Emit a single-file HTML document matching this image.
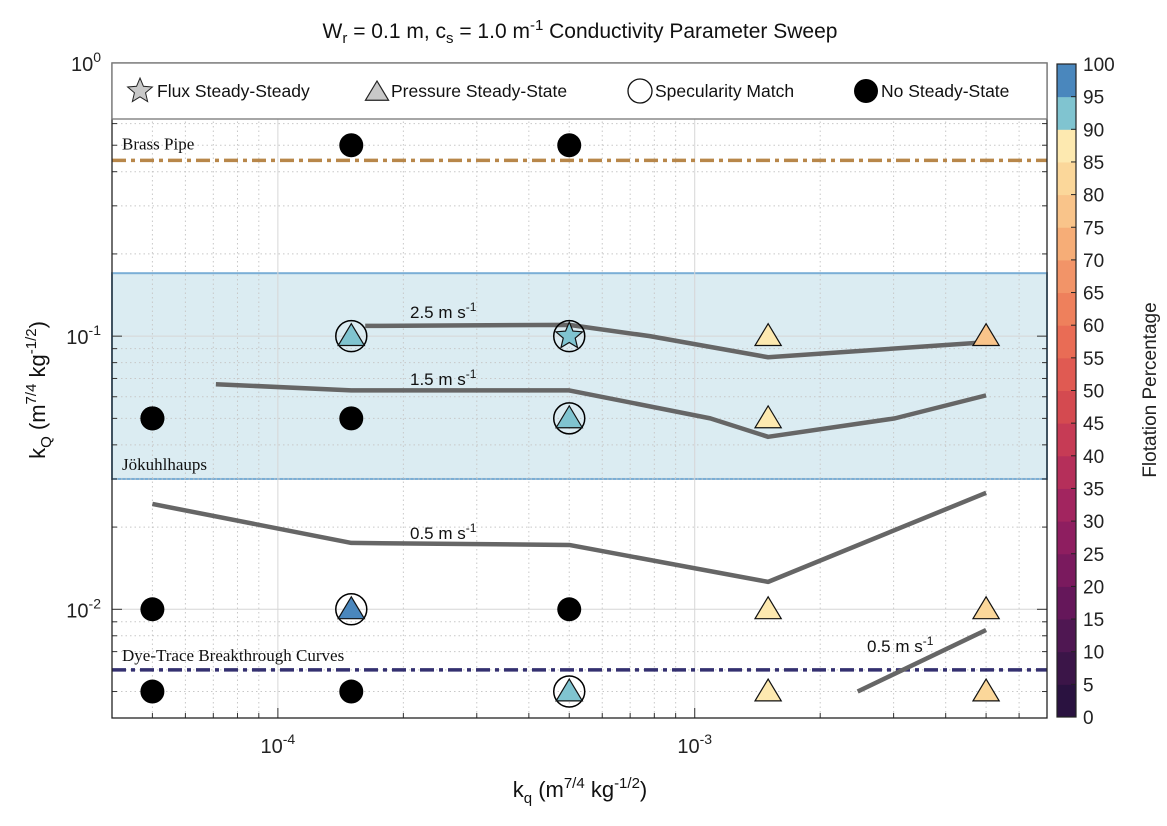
<!DOCTYPE html>
<html><head><meta charset="utf-8">
<style>
body{margin:0;background:#fff;}
svg{display:block;font-family:"Liberation Sans",Arial,sans-serif;}
</style></head>
<body>
<svg id="chart" width="1167" height="826" viewBox="0 0 1167 826" xmlns="http://www.w3.org/2000/svg">
<text x="580" y="38" text-anchor="middle" font-size="21" fill="#111">W<tspan font-size="15" dy="5">r</tspan><tspan dy="-5"> = 0.1 m, c</tspan><tspan font-size="15" dy="5">s</tspan><tspan dy="-5"> = 1.0 m</tspan><tspan font-size="15" dy="-8">-1</tspan><tspan dy="8"> Conductivity Parameter Sweep</tspan></text>
<g id="plot"></g>
</svg>
<script>
// ---- data ----
const blackX = [5e-5, 1.5e-4, 5e-4, 5e-5, 1.5e-4, 5e-5, 5e-4, 5e-5, 1.5e-4];
const blackY = [0.05, 0.5, 0.5, 0.05, 0.05, 0.01, 0.01, 0.005, 0.005];
const specX = [1.5e-4, 1.5e-4, 5e-4, 5e-4, 5e-4];
const specY = [0.1, 0.01, 0.05, 0.005, 0.1];
const triX = [1.5e-4, 1.5e-4, 5e-4, 5e-4, 1.5e-3, 5e-3, 1.5e-3, 1.5e-3, 5e-3, 1.5e-3, 5e-3];
const triY = [0.1, 0.01, 0.05, 0.005, 0.1, 0.1, 0.05, 0.01, 0.01, 0.005, 0.005];
const triPct = [92, 97, 92, 92, 87, 78, 87, 87, 80, 87, 80];
const starX = [5e-4];
const starY = [0.1];
const starPct = [92];
const line25X = [1.62e-4, 5e-4, 7.8e-4, 1.5e-3, 5e-3];
const line25Y = [0.109, 0.110, 0.100, 0.0837, 0.095];
const line15X = [7.1e-5, 1.5e-4, 5e-4, 1.09e-3, 1.5e-3, 3.02e-3, 5e-3];
const line15Y = [0.0667, 0.0633, 0.0633, 0.050, 0.0428, 0.050, 0.0607];
const line05X = [5e-5, 1.5e-4, 5e-4, 1.5e-3, 5e-3];
const line05Y = [0.0243, 0.0175, 0.0172, 0.0126, 0.0267];
const line05bX = [2.46e-3, 5e-3];
const line05bY = [0.005, 0.0084];
const brassY = 0.44, dyeY = 0.006, jokLo = 0.03, jokHi = 0.17;
const xTickVals = [1e-4, 1e-3];
const xTickLabels = ["-4", "-3"];
const yTickVals = [1e0, 1e-1, 1e-2];
const yTickLabels = ["0", "-1", "-2"];
const cbColors = ["#2a1240","#3b1548","#4f1752","#65175a","#7a1a5e","#8e1e60","#a2255f","#b52f5a","#c63b55","#d44a50","#e05a52","#e96c55","#ee805c","#f29468","#f6ad77","#f9c48a","#fbd79a","#fde9b0","#80c4d0","#4a87bd"];

// ---- axes ----
const L=112,R=1047,T=63,B=718;
const xmin=Math.log10(4e-5), xmax=Math.log10(7e-3);
const ymin=Math.log10(4e-3), ymax=0;
const sx=v=>L+(Math.log10(v)-xmin)/(xmax-xmin)*(R-L);
const sy=v=>B-(Math.log10(v)-ymin)/(ymax-ymin)*(B-T);
const colorOf=p=>cbColors[Math.min(19,Math.floor(p/5))];
const NS="http://www.w3.org/2000/svg";
const g=document.getElementById('plot');
function mk(tag,attrs,parent){const e=document.createElementNS(NS,tag);for(const k in attrs)e.setAttribute(k,attrs[k]);(parent||g).appendChild(e);return e;}

let e=mk('rect',{x:L,y:sy(jokHi),width:R-L,height:sy(jokLo)-sy(jokHi),fill:'#dbecf2',stroke:'#7aaed6','stroke-width':2});



for(let d=-5;d<=-2;d++)for(let m=1;m<10;m++){const v=m*Math.pow(10,d);const lv=Math.log10(v);if(lv<xmin||lv>xmax)continue;const x=sx(v);
 e=mk('line',{x1:x,x2:x,y1:T,y2:B,stroke:m==1?'#d6d6d6':'#c8c8c8','stroke-width':1,'stroke-dasharray':m==1?'':'1.5 3'});
 
 
 mk('line',{x1:x,x2:x,y1:B,y2:B-(m==1?10:5),stroke:'#333'});mk('line',{x1:x,x2:x,y1:T,y2:T+(m==1?10:5),stroke:'#333'});}
for(let d=-3;d<=0;d++)for(let m=1;m<10;m++){const v=m*Math.pow(10,d);const lv=Math.log10(v);if(lv<ymin-1e-9||lv>ymax+1e-9)continue;const y=sy(v);
 e=mk('line',{x1:L,x2:R,y1:y,y2:y,stroke:m==1?'#d6d6d6':'#c8c8c8','stroke-width':1,'stroke-dasharray':m==1?'':'1.5 3'});
 
 
 mk('line',{x1:L,x2:L+(m==1?10:5),y1:y,y2:y,stroke:'#333'});mk('line',{x1:R,x2:R-(m==1?10:5),y1:y,y2:y,stroke:'#333'});}

e=mk('line',{x1:L,x2:R,y1:sy(brassY),y2:sy(brassY),stroke:'#b8874a','stroke-width':3.5,'stroke-dasharray':'14 5 4 5'});


e=mk('line',{x1:L,x2:R,y1:sy(dyeY),y2:sy(dyeY),stroke:'#343070','stroke-width':3.5,'stroke-dasharray':'14 5 4 5'});


function lbl(t,x,y,name,serif){const el=mk('text',{x:x,y:y,'font-size':serif?17:16,fill:'#111','font-family':serif?'"Liberation Serif",serif':'"Liberation Sans",sans-serif'});el.textContent=t;return el;}
lbl('Brass Pipe',122,sy(brassY)-11,'brass-pipe-label',true);
lbl('Jökuhlhaups',122,sy(jokLo)-9,'jokulhlaups-label',true);
lbl('Dye-Trace Breakthrough Curves',122,sy(dyeY)-9,'dye-trace-label',true);

function poly(xs,ys,name){const pts=xs.map((v,i)=>sx(v)+','+sy(ys[i])).join(' ');const p=mk('polyline',{points:pts,fill:'none',stroke:'#666','stroke-width':4.5,'stroke-linejoin':'round'});}
poly(line25X,line25Y,'velocity-2.5-contour');
poly(line15X,line15Y,'velocity-1.5-contour');
poly(line05X,line05Y,'velocity-0.5-contour');
poly(line05bX,line05bY,'velocity-0.5-contour-lower');
function vlab(t,x,y,name){const el=mk('text',{x:x,y:y,'font-size':17,fill:'#111'});el.innerHTML=t+' m s<tspan font-size="12" dy="-7">-1</tspan>';}
vlab('2.5',410,318,'label-2.5');
vlab('1.5',410,385,'label-1.5');
vlab('0.5',410,539,'label-0.5');
vlab('0.5',867,652,'label-0.5-lower');

blackX.forEach((v,i)=>{const c=mk('circle',{cx:sx(v),cy:sy(blackY[i]),r:12,fill:'#000'});});
specX.forEach((v,i)=>{const c=mk('circle',{cx:sx(v),cy:sy(specY[i]),r:15.5,fill:'none',stroke:'#000','stroke-width':1.5});});
function triPts(x,y,s){return `${x},${y-s} ${x-s*1.05},${y+s*0.75} ${x+s*1.05},${y+s*0.75}`;}
triX.forEach((v,i)=>{const t=mk('polygon',{points:triPts(sx(v),sy(triY[i]),12.5),fill:colorOf(triPct[i]),stroke:'#111','stroke-width':1.2});});
function starPts(x,y,r){let p=[];for(let k=0;k<10;k++){const a=-Math.PI/2+k*Math.PI/5;const rr=k%2?r*0.45:r;p.push((x+rr*Math.cos(a))+','+(y+rr*Math.sin(a)));}return p.join(' ');}
starX.forEach((v,i)=>{const s=mk('polygon',{points:starPts(sx(v),sy(starY[i]),14),fill:colorOf(starPct[i]),stroke:'#111','stroke-width':1.2});});

e=mk('rect',{x:L,y:T,width:R-L,height:B-T,fill:'none',stroke:'#222','stroke-width':1.3});



const lg=mk('g',{});


mk('rect',{x:L,y:T,width:R-L,height:56,fill:'#fff',stroke:'#777','stroke-width':1.3},lg);
mk('polygon',{points:starPts(140,91,13),fill:'#c8c8c8',stroke:'#222','stroke-width':1},lg);
mk('polygon',{points:triPts(377,92,11),fill:'#c8c8c8',stroke:'#222','stroke-width':1.2},lg);
mk('circle',{cx:640,cy:91,r:12,fill:'#fff',stroke:'#111','stroke-width':1.3},lg);
mk('circle',{cx:866,cy:91,r:12,fill:'#000'},lg);
[['Flux Steady-Steady',157],['Pressure Steady-State',391],['Specularity Match',655],['No Steady-State',881]].forEach(a=>{const t=mk('text',{x:a[1],y:97,'font-size':17.5,fill:'#111'},lg);t.textContent=a[0];});

xTickVals.forEach((v,i)=>{const t=mk('text',{x:sx(v),y:753,'font-size':20,fill:'#222','text-anchor':'middle'});t.innerHTML='10<tspan font-size="14" dy="-9">'+xTickLabels[i]+'</tspan>';});
yTickVals.forEach((v,i)=>{const t=mk('text',{x:101,y:sy(v)+8,'font-size':20,fill:'#222','text-anchor':'end'});t.innerHTML='10<tspan font-size="14" dy="-9">'+yTickLabels[i]+'</tspan>';});

e=mk('text',{x:580,y:797,'font-size':22,fill:'#111','text-anchor':'middle'});
e.innerHTML='k<tspan font-size="15" dy="6">q</tspan><tspan dy="-6"> (m</tspan><tspan font-size="15" dy="-9">7/4</tspan><tspan dy="9"> kg</tspan><tspan font-size="15" dy="-9">-1/2</tspan><tspan dy="9">)</tspan>';


e=mk('text',{x:0,y:0,'font-size':22,fill:'#111','text-anchor':'middle',transform:'translate(45,390) rotate(-90)'});
e.innerHTML='k<tspan font-size="15" dy="6">Q</tspan><tspan dy="-6"> (m</tspan><tspan font-size="15" dy="-9">7/4</tspan><tspan dy="9"> kg</tspan><tspan font-size="15" dy="-9">-1/2</tspan><tspan dy="9">)</tspan>';



const cbL=1057,cbW=19,cbT=64,cbB=717,seg=(cbB-cbT)/20;
cbColors.forEach((c,i)=>{const r=mk('rect',{x:cbL,y:cbB-(i+1)*seg,width:cbW,height:seg+0.5,fill:c});});
mk('rect',{x:cbL,y:cbT,width:cbW,height:cbB-cbT,fill:'none',stroke:'#222','stroke-width':1.2});
for(let i=0;i<=20;i++){const y=cbB-i*seg;mk('line',{x1:cbL+cbW-5,x2:cbL+cbW,y1:y,y2:y,stroke:'#222'});const t=mk('text',{x:1083,y:y+7,'font-size':19,fill:'#222'});t.textContent=String(i*5);}
e=mk('text',{x:0,y:0,'font-size':19,fill:'#222','text-anchor':'middle',transform:'translate(1156,390) rotate(-90)'});
e.textContent='Flotation Percentage';


</script>
</body></html>
